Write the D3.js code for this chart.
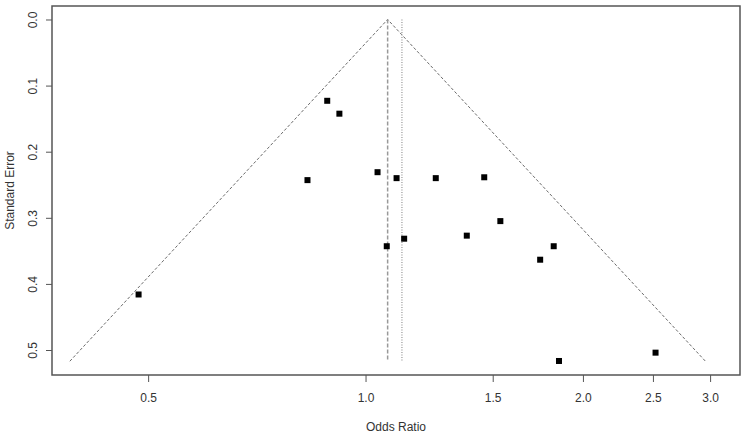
<!DOCTYPE html>
<html>
<head>
<meta charset="utf-8">
<script src="https://cdn.jsdelivr.net/npm/d3@7"></script>
<style>
	body { margin: 0; background: #fff; }
	text { font-family: "Liberation Sans", Arial, sans-serif; fill: #333; }
</style>
</head>
<body>
<div id="chart"></div>
<script>
const WIDTH = 744;
const HEIGHT = 436;

// study estimates
const oddsRatios = [0.885, 0.920, 0.831, 1.039, 1.104, 1.251, 1.460, 1.537, 1.381, 1.131, 1.070, 1.822, 1.745, 0.485, 1.853, 2.521];
const stdErrors = [0.123, 0.1425, 0.243, 0.231, 0.240, 0.240, 0.2387, 0.305, 0.327, 0.3316, 0.343, 0.343, 0.3634, 0.416, 0.5166, 0.504];

const xTicks = [0.5, 1.0, 1.5, 2.0, 2.5, 3.0];
const yTicks = [0.0, 0.1, 0.2, 0.3, 0.4, 0.5];

const pooledFixed = 1.073;  // dashed line and funnel apex
const pooledRandom = 1.123; // dotted line
const seMax = 0.517;

const margin = {top: 6, right: 4, bottom: 61, left: 52};

function draw() {
	const svg = d3.select("#chart").append("svg")
		.attr("width", WIDTH)
		.attr("height", HEIGHT);

	const x = d3.scaleLog()
		.domain([0.368, 3.30])
		.range([margin.left, WIDTH - margin.right]);
	const y = d3.scaleLinear()
		.domain([-0.0204, 0.5378])
		.range([margin.top, HEIGHT - margin.bottom]);

	// funnel
	const z = 1.96;
	const c = Math.log(pooledFixed);
	const funnel = [
		[Math.exp(c - z * seMax), seMax],
		[pooledFixed, 0],
		[Math.exp(c + z * seMax), seMax]
	];
	svg.append("path")
		.attr("d", d3.line().x((d) => x(d[0])).y((d) => y(d[1]))(funnel))
		.attr("fill", "none")
		.attr("stroke", "#444")
		.attr("stroke-width", 0.8)
		.attr("stroke-dasharray", "3,2");

	svg.append("line")
		.attr("x1", x(pooledFixed)).attr("x2", x(pooledFixed))
		.attr("y1", y(0)).attr("y2", y(seMax))
		.attr("stroke", "#999")
		.attr("stroke-width", 1.5)
		.attr("stroke-dasharray", "4,2");
	svg.append("line")
		.attr("x1", x(pooledRandom)).attr("x2", x(pooledRandom))
		.attr("y1", y(0)).attr("y2", y(seMax))
		.attr("stroke", "#aaa")
		.attr("stroke-width", 1.5)
		.attr("stroke-dasharray", "1,1.5");

	// points
	svg.append("g")
		.selectAll("rect")
		.data(oddsRatios.map((d, i) => ({or: d, se: stdErrors[i]})))
		.enter().append("rect")
		.attr("x", (d) => x(d.or) - 3)
		.attr("y", (d) => y(d.se) - 3)
		.attr("width", 6)
		.attr("height", 6)
		.attr("fill", "#000");

	// box
	svg.append("rect")
		.attr("x", margin.left)
		.attr("y", margin.top)
		.attr("width", WIDTH - margin.right - margin.left)
		.attr("height", HEIGHT - margin.bottom - margin.top)
		.attr("fill", "none")
		.attr("stroke", "#555")
		.attr("stroke-width", 1.5);

	// x axis
	const xAxis = svg.append("g")
		.attr("transform", `translate(0,${HEIGHT - margin.bottom})`)
		.call(d3.axisBottom(x).tickValues(xTicks).tickFormat(d3.format(".1f")).tickSize(7).tickPadding(11));
	xAxis.select(".domain").remove();
	xAxis.selectAll("line").attr("stroke", "#555");
	xAxis.selectAll("text").style("font-size", "12px").attr("fill", "#333");

	// y axis, labels rotated like R
	const yAxis = svg.append("g")
		.attr("transform", `translate(${margin.left},0)`)
		.call(d3.axisLeft(y).tickValues(yTicks).tickFormat(d3.format(".1f")).tickSize(6));
	yAxis.select(".domain").remove();
	yAxis.selectAll("line").attr("stroke", "#555");
	yAxis.selectAll("text")
		.style("font-size", "12px")
		.attr("fill", "#333")
		.attr("x", null).attr("dy", null)
		.attr("text-anchor", "middle")
		.attr("transform", "translate(-15,0) rotate(-90)")
		.attr("y", 0);

	svg.append("text")
		.attr("x", (margin.left + WIDTH - margin.right) / 2)
		.attr("y", 431)
		.attr("text-anchor", "middle")
		.style("font-size", "12px")
		.text("Odds Ratio");
	svg.append("text")
		.attr("transform", `translate(14,${(margin.top + HEIGHT - margin.bottom) / 2}) rotate(-90)`)
		.attr("text-anchor", "middle")
		.style("font-size", "12px")
		.text("Standard Error");
}

document.addEventListener("DOMContentLoaded", () => {
	draw();
});
</script>
</body>
</html>
